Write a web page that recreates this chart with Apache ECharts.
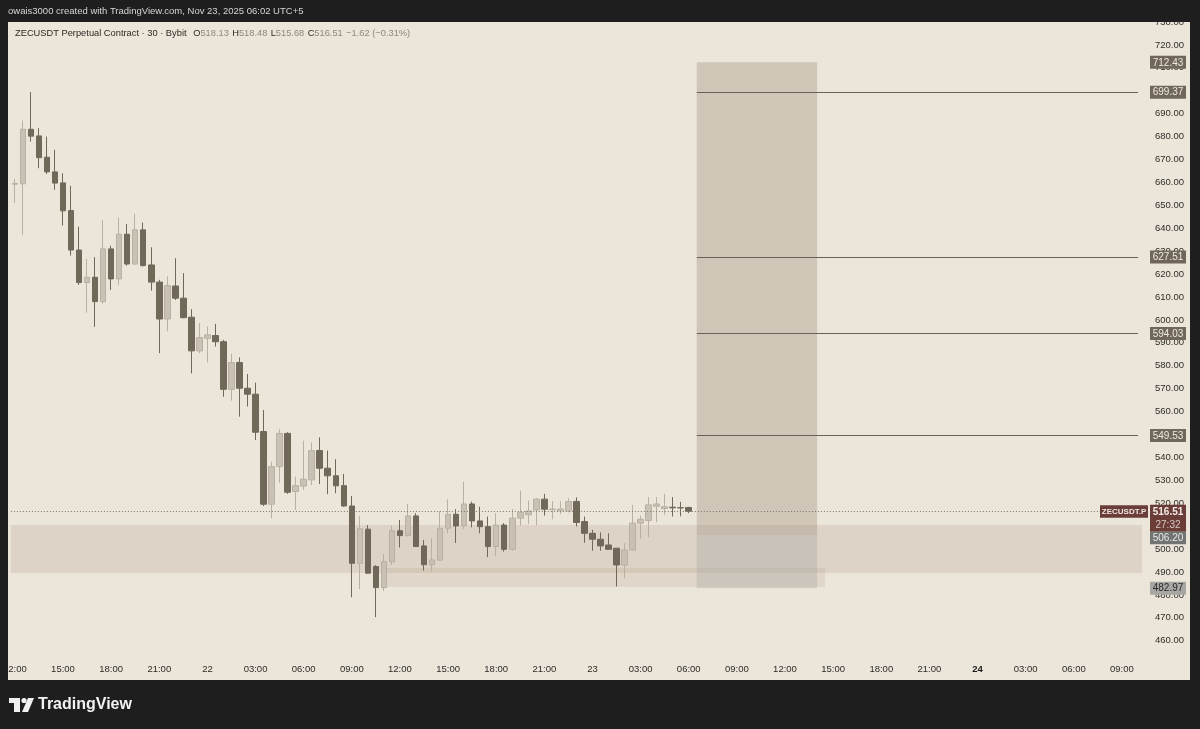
<!DOCTYPE html>
<html>
<head>
<meta charset="utf-8">
<script src="https://cdn.jsdelivr.net/npm/echarts@6/dist/echarts.min.js"></script>
<style>
  html, body { margin: 0; padding: 0; background: #1e1e1e; }
  #chart { width: 1200px; height: 729px; }
</style>
</head>
<body>
<div id="chart"></div>
<script>
// ZECUSDT.P 30m candles, from 21 Nov 12:00 to 23 Nov 06:00
var opens = [659.2, 659.4, 683.2, 680.3, 671.0, 664.6, 659.8, 647.7, 630.5, 616.3,
    618.6, 608.0, 631.0, 617.9, 637.4, 624.4, 639.3, 624.0, 616.5, 600.4,
    614.8, 609.5, 601.2, 586.5, 592.0, 593.2, 590.5, 569.7, 581.4, 570.2,
    567.6, 551.3, 519.6, 536.0, 550.5, 525.1, 527.5, 530.2, 543.0, 535.3,
    532.0, 527.7, 518.8, 493.8, 508.7, 492.4, 483.2, 494.5, 508.0, 505.9,
    514.5, 501.4, 493.2, 495.2, 509.1, 515.2, 510.1, 519.7, 512.3, 509.8,
    501.1, 510.5, 499.9, 513.5, 515.0, 517.1, 521.8, 517.2, 516.7, 516.7,
    520.8, 512.0, 506.9, 504.3, 501.8, 500.4, 493.1, 499.6, 511.3, 512.5,
    518.7, 517.7, 518.3, 518.1, 518.13]
var closes = [659.6, 683.2, 680.2, 670.8, 664.6, 659.7, 647.6, 630.5, 616.3, 618.6,
    608.0, 631.0, 617.9, 637.4, 624.4, 639.3, 623.7, 616.5, 600.4, 615.0,
    609.5, 601.0, 586.5, 592.3, 593.5, 590.5, 569.7, 581.4, 570.2, 567.6,
    551.0, 519.6, 536.0, 550.5, 524.8, 527.7, 530.5, 543.0, 535.3, 532.0,
    527.6, 518.8, 493.8, 508.9, 489.5, 483.2, 494.5, 508.0, 505.9, 514.5,
    501.1, 493.2, 495.3, 509.1, 515.2, 510.1, 519.7, 512.3, 509.8, 501.1,
    510.5, 499.9, 513.5, 516.0, 516.6, 521.8, 517.4, 517.5, 517.5, 520.8,
    511.6, 506.9, 504.3, 501.4, 499.9, 493.1, 499.6, 511.3, 513.0, 519.3,
    519.7, 518.5, 518.0, 518.0, 516.51]
var lows = [651.0, 637.0, 677.8, 666.2, 663.7, 656.8, 641.2, 628.1, 615.3, 603.2,
    597.0, 607.0, 613.1, 615.3, 623.7, 624.0, 623.3, 612.8, 585.5, 595.0,
    608.7, 600.7, 576.7, 585.5, 581.4, 588.4, 566.5, 564.8, 557.8, 562.2,
    547.6, 518.8, 513.5, 529.0, 524.1, 517.1, 525.8, 528.0, 528.4, 524.0,
    524.4, 518.5, 479.0, 482.6, 489.2, 470.3, 481.7, 493.0, 500.7, 505.5,
    501.1, 490.6, 490.2, 495.1, 506.9, 502.7, 508.8, 509.5, 506.9, 496.5,
    497.0, 498.9, 499.3, 510.3, 511.0, 510.5, 514.6, 513.0, 515.3, 516.0,
    509.9, 502.8, 499.3, 499.3, 499.9, 483.7, 487.3, 499.6, 504.5, 505.2,
    511.8, 515.0, 514.2, 514.3, 515.68]
var highs = [661.5, 687.0, 699.4, 683.7, 680.0, 674.2, 664.0, 658.5, 640.7, 626.6,
    627.4, 643.6, 632.4, 644.6, 641.9, 646.3, 642.5, 631.7, 617.5, 619.0,
    626.9, 620.4, 604.7, 598.6, 597.1, 598.3, 591.3, 585.2, 583.7, 576.4,
    572.6, 560.7, 538.2, 552.3, 551.0, 531.6, 547.3, 546.5, 548.8, 543.0,
    539.2, 532.8, 523.2, 514.5, 510.5, 493.0, 497.9, 510.3, 512.7, 519.7,
    515.7, 504.0, 504.7, 516.6, 521.7, 517.4, 529.4, 520.7, 518.5, 514.2,
    515.7, 511.3, 517.5, 525.5, 521.2, 522.2, 524.1, 521.0, 520.9, 522.2,
    522.6, 514.2, 508.4, 507.3, 506.9, 500.4, 502.6, 519.3, 514.6, 522.7,
    522.7, 524.1, 522.7, 520.6, 518.48]

var lastPrice = 516.51
var levelLines = [699.37, 627.51, 594.03, 549.53]
var positionLevels = [712.43, 506.20, 482.97]   // target, entry, stop
var demandZone = [510.5, 489.6]
var lowBand = [491.8, 483.5]

// 30 minute slots from 21 Nov 12:00 to 24 Nov 10:00
var categories = []
for (var k = 0; k < 141; k++) {
    var mins = 12 * 60 + k * 30
    var day = 21 + Math.floor(mins / 1440)
    var m = mins % 1440
    categories.push(day + ' ' + String(Math.floor(m / 60)).padStart(2, '0') + ':' + String(m % 60).padStart(2, '0'))
}

var candles = []
for (var i = 0; i < opens.length; i++) {
    candles.push([opens[i], closes[i], lows[i], highs[i]])
}

var FONT = '"Liberation Sans", Arial, sans-serif'
var chart = echarts.init(document.getElementById('chart'))

var levelMarks = levelLines.map(function (v) {
    return [{coord: [85, v], lineStyle: {color: '#6a6258', width: 1, type: 'solid'}}, {coord: [140, v]}]
})

chart.setOption({
    animation: false,
    backgroundColor: '#1e1e1e',
    textStyle: {fontFamily: FONT},
    grid: {left: 8, right: 58, top: 22, height: 641.7},
    xAxis: {
        type: 'category',
        data: categories,
        boundaryGap: true,
        axisLine: {show: false},
        axisTick: {show: false},
        splitLine: {show: false},
        axisLabel: {
            margin: 1,
            color: '#2e2c29',
            fontSize: 9.5,
            interval: function (idx, val) {
                var hm = val.split(' ')[1]
                return hm.slice(3) === '00' && parseInt(hm.slice(0, 2)) % 3 === 0
            },
            formatter: function (val) {
                var parts = val.split(' ')
                if (parts[1] === '00:00') {
                    return parts[0] === '24' ? '{b|24}' : parts[0]
                }
                return parts[1]
            },
            rich: {b: {fontWeight: 'bold', fontSize: 9.5, color: '#1a1a1a'}}
        }
    },
    yAxis: {
        type: 'value',
        position: 'right',
        min: 450,
        max: 730,
        interval: 10,
        scale: true,
        axisLine: {show: false},
        axisTick: {show: false},
        splitLine: {show: false},
        axisLabel: {
            margin: 13,
            align: 'left',
            color: '#2e2c29',
            fontSize: 9.5,
            formatter: function (v) { return v <= 450 ? '' : v.toFixed(2) }
        }
    },
    series: [{
        type: 'candlestick',
        data: candles,
        barWidth: 6,
        itemStyle: {
            color: '#c9c1b4',
            borderColor: '#b8b0a2',
            color0: '#706859',
            borderColor0: '#706859',
            borderWidth: 1
        },
        markArea: {
            silent: true,
            data: [
                [{yAxis: demandZone[0], itemStyle: {color: 'rgba(170,152,130,0.22)'}}, {yAxis: demandZone[1]}],
                [{coord: [46, lowBand[0]], itemStyle: {color: 'rgba(170,152,130,0.18)'}}, {coord: [101, lowBand[1]]}],
                [{coord: [85, positionLevels[0]], itemStyle: {color: 'rgba(150,138,118,0.33)'}}, {coord: [100, positionLevels[1]]}],
                [{coord: [85, positionLevels[1]], itemStyle: {color: 'rgba(165,163,160,0.33)'}}, {coord: [100, positionLevels[2]]}]
            ]
        },
        markLine: {
            silent: true,
            symbol: ['none', 'none'],
            label: {show: false},
            data: levelMarks.concat([
                {yAxis: lastPrice, lineStyle: {color: '#7a746c', width: 1, type: [1, 2]}}
            ])
        }
    }]
})

function yOf(v) { return chart.convertToPixel({yAxisIndex: 0}, v) }

function box(x, y, w, h, bg, fg, text, font) {
    return [
        {type: 'rect', z: 50, shape: {x: x, y: y, width: w, height: h}, style: {fill: bg}},
        {type: 'text', z: 51, style: {x: x + w / 2, y: y + h / 2 + 0.5, text: text, fill: fg,
            font: font || ('10px ' + FONT), align: 'center', verticalAlign: 'middle'}}
    ]
}

var g = [
    // chart panel
    {type: 'rect', z: -10, shape: {x: 8, y: 22, width: 1182, height: 658}, style: {fill: '#ece5d9'}},
    // dark frame around it
    {type: 'rect', z: 100, shape: {x: 0, y: 0, width: 1200, height: 21}, style: {fill: '#1e1e1e'}},
    {type: 'rect', z: 100, shape: {x: 0, y: 0, width: 8, height: 729}, style: {fill: '#1e1e1e'}},
    {type: 'rect', z: 100, shape: {x: 1190, y: 0, width: 10, height: 729}, style: {fill: '#1e1e1e'}},
    {type: 'rect', z: 100, shape: {x: 0, y: 680, width: 1200, height: 49}, style: {fill: '#1e1e1e'}},
    {type: 'text', z: 101, style: {x: 8, y: 11, text: 'owais3000 created with TradingView.com, Nov 23, 2025 06:02 UTC+5',
        fill: '#d6d6d6', font: '9.5px ' + FONT, verticalAlign: 'middle'}},
    {type: 'text', z: 101, style: {x: 15, y: 33,
        text: '{a|ZECUSDT Perpetual Contract · 30 · Bybit}  {a|O}{b|518.13} {a|H}{b|518.48} {a|L}{b|515.68} {a|C}{b|516.51} {b|−1.62 (−0.31%)}',
        rich: {a: {fill: '#2b2925', font: '9.3px ' + FONT}, b: {fill: '#8e877c', font: '9.3px ' + FONT}},
        verticalAlign: 'middle'}},
    // TradingView logo
    {type: 'rect', z: 101, shape: {x: 9, y: 698, width: 11, height: 5}, style: {fill: '#f2f2f2'}},
    {type: 'rect', z: 101, shape: {x: 14, y: 698, width: 6, height: 14}, style: {fill: '#f2f2f2'}},
    {type: 'circle', z: 101, shape: {cx: 24, cy: 700.5, r: 2.6}, style: {fill: '#f2f2f2'}},
    {type: 'polygon', z: 101, shape: {points: [[28, 698], [34, 698], [28, 712], [22, 712]]}, style: {fill: '#f2f2f2'}},
    {type: 'text', z: 101, style: {x: 38, y: 705, text: 'TradingView', fill: '#f2f2f2',
        font: 'bold 16px ' + FONT, verticalAlign: 'middle'}}
]

levelLines.concat([positionLevels[0]]).forEach(function (v) {
    g = g.concat(box(1150, yOf(v) - 6.5, 36, 13, '#6f675c', '#efe8dc', v.toFixed(2)))
})

var yl = yOf(lastPrice)
g = g.concat(box(1100, yl - 6, 48, 12.5, '#6a3d38', '#f1e6e1', 'ZECUSDT.P', 'bold 8px ' + FONT))
g.push({type: 'rect', z: 50, shape: {x: 1150, y: yl - 6.5, width: 36, height: 27}, style: {fill: '#6a3d38'}})
g.push({type: 'text', z: 51, style: {x: 1168, y: yl + 0.5, text: '516.51', fill: '#f3e9e4',
    font: 'bold 10px ' + FONT, align: 'center', verticalAlign: 'middle'}})
g.push({type: 'text', z: 51, style: {x: 1168, y: yl + 13.5, text: '27:32', fill: '#d9c8c3',
    font: '10px ' + FONT, align: 'center', verticalAlign: 'middle'}})

g = g.concat(box(1150, Math.max(yOf(positionLevels[1]) - 6.5, yl + 20.5), 36, 12.5, '#717572', '#e4e8e8', positionLevels[1].toFixed(2)))
g = g.concat(box(1150, yOf(positionLevels[2]) - 6.5, 36, 13, '#a8a6a2', '#2b2b2b', positionLevels[2].toFixed(2)))

chart.setOption({graphic: g})
</script>
</body>
</html>
